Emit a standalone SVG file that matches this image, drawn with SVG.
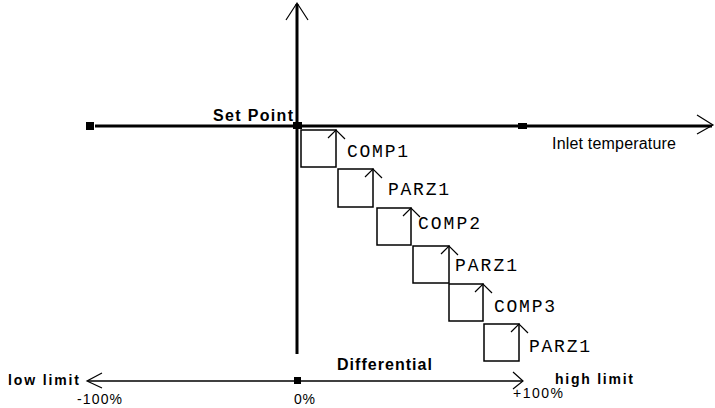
<svg xmlns="http://www.w3.org/2000/svg" width="715" height="408" viewBox="0 0 715 408">
<style>
.ax{stroke:#000;stroke-width:3;fill:none}
.thin{stroke:#000;stroke-width:1.5;fill:none}
.box{stroke:#000;stroke-width:1.5;fill:none}
.head{stroke:#000;stroke-width:1.2;fill:none}
.mk{fill:#000}
.b{font-family:"Liberation Sans",Arial,sans-serif;font-weight:bold;fill:#000}
.n{font-family:"Liberation Sans",Arial,sans-serif;fill:#000}
.m{font-family:"Liberation Mono","Courier New",monospace;font-size:18px;fill:#000}
</style>
<rect width="715" height="408" fill="#fff"/>
<g id="connectors">
  <line class="ax" x1="297" y1="4" x2="297" y2="354"/>
  <polyline class="head" points="286,20 297,3 308,20"/>
  <line class="ax" x1="95" y1="126" x2="712" y2="126"/>
  <polyline class="head" points="697,115 713,125 697,134"/>
  <line class="thin" x1="88" y1="381" x2="523" y2="381"/>
  <polyline class="head" points="102,373 87,381 102,388"/>
  <polyline class="head" points="513,372 523,381 513,389"/>
</g>
<g id="markers">
  <rect class="mk" x="86" y="122" width="8" height="8"/>
  <rect class="mk" x="293" y="122" width="9" height="7"/>
  <rect class="mk" x="518" y="123" width="9" height="6"/>
  <rect class="mk" x="294" y="377" width="7" height="7"/>
</g>
<g id="step1">
  <rect class="box" x="301" y="130" width="35" height="37"/>
  <polyline class="head" points="328,138 336,130 345,139"/>
  <text class="m" x="347" y="157" textLength="61" lengthAdjust="spacing">COMP1</text>
</g>
<g id="step2">
  <rect class="box" x="338" y="169" width="35" height="38"/>
  <polyline class="head" points="365,177 373,169 382,178"/>
  <text class="m" x="388" y="195" textLength="61" lengthAdjust="spacing">PARZ1</text>
</g>
<g id="step3">
  <rect class="box" x="377" y="208" width="34" height="37"/>
  <polyline class="head" points="403,216 411,208 420,217"/>
  <text class="m" x="418" y="229" textLength="62" lengthAdjust="spacing">COMP2</text>
</g>
<g id="step4">
  <rect class="box" x="413" y="246" width="36" height="37"/>
  <polyline class="head" points="441,254 449,246 458,255"/>
  <text class="m" x="455" y="271" textLength="62" lengthAdjust="spacing">PARZ1</text>
</g>
<g id="step5">
  <rect class="box" x="449" y="284" width="34" height="37"/>
  <polyline class="head" points="475,292 483,284 492,293"/>
  <text class="m" x="494" y="312" textLength="61" lengthAdjust="spacing">COMP3</text>
</g>
<g id="step6">
  <rect class="box" x="484" y="324" width="35" height="37"/>
  <polyline class="head" points="511,332 519,324 528,333"/>
  <text class="m" x="529" y="352" textLength="61" lengthAdjust="spacing">PARZ1</text>
</g>
<g id="labels">
  <text class="b" x="213" y="120.5" font-size="16" textLength="80" lengthAdjust="spacing">Set Point</text>
  <text class="n" x="552" y="149" font-size="16" textLength="124" lengthAdjust="spacing">Inlet temperature</text>
  <text class="b" x="337" y="370" font-size="16" textLength="95" lengthAdjust="spacing">Differential</text>
  <text class="b" x="8" y="385" font-size="14" textLength="71" lengthAdjust="spacing">low limit</text>
  <text class="b" x="555" y="384" font-size="14" textLength="78" lengthAdjust="spacing">high limit</text>
  <text class="n" x="77" y="403.5" font-size="14" textLength="45" lengthAdjust="spacing">-100%</text>
  <text class="n" x="294" y="403.5" font-size="14" textLength="21" lengthAdjust="spacing">0%</text>
  <text class="n" x="513" y="398" font-size="14" textLength="50" lengthAdjust="spacing">+100%</text>
</g>
</svg>
